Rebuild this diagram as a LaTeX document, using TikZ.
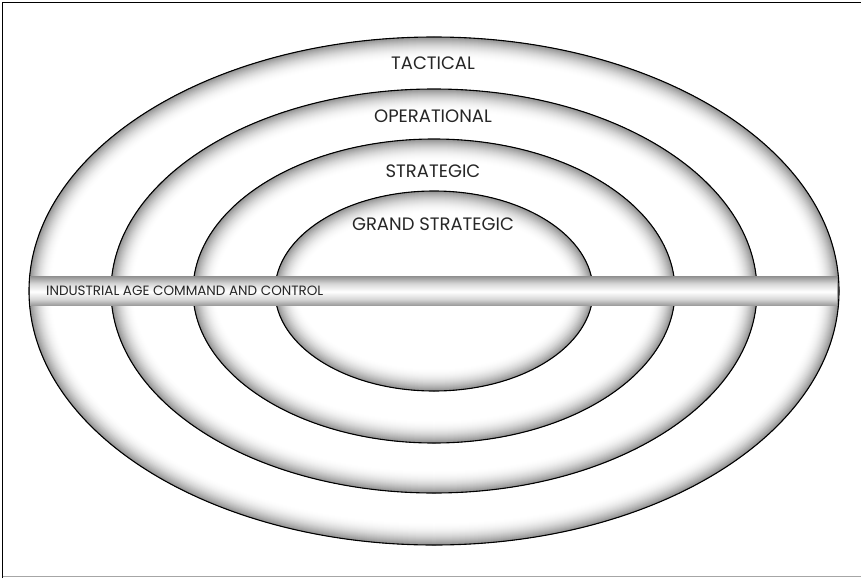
\documentclass[tikz,border=0pt]{standalone}
\usepackage{fontspec}
\setmainfont{Poppins}
\usetikzlibrary{positioning}

% soft grey band inside each ring
\pgfdeclareverticalshading{barshade}{100bp}{color(0bp)=(black!38); color(25bp)=(black!38);
  color(35bp)=(black!16); color(48bp)=(white); color(62bp)=(black!16); color(75bp)=(black!44); color(100bp)=(black!44)}

\newcommand{\glowring}[2]{%
  \begin{scope}
    \clip (434,291) ellipse [x radius=#1, y radius=#2];
    \fill[white] (434,291) ellipse [x radius=#1, y radius=#2];
    \foreach \d in {22,21,...,1} {
      \pgfmathsetmacro\k{46*(1-\d/23)^2}
      \draw[line width=2*\d, black!\k] (434,291) ellipse [x radius=#1, y radius=#2];
    }
  \end{scope}
  \draw[line width=1.1] (434,291) ellipse [x radius=#1, y radius=#2];
}

\begin{document}
\begin{tikzpicture}[x=1pt, y=-1pt,
  ringlabel/.style={font=\fontsize{18}{20}\selectfont, text=black!85, inner sep=0pt},
  barlabel/.style={font=\fontsize{13.5}{15}\selectfont, text=black!85, inner sep=0pt, anchor=west}]
\useasboundingbox (0,0) rectangle (861,578);
% Frame
\draw[line width=1.5] (2.5,578) -- (2.5,2.5) -- (861,2.5);
\draw[black!35, line width=1.5] (2.5,576.5) -- (861,576.5);
% Rings, outer first
\glowring{405}{254}
\glowring{323}{202}
\glowring{241}{152}
\glowring{159}{100}
% Bar
\shade[shading=barshade] (30,276) rectangle (837,305);
% Labels
\node[ringlabel] (tactical) at (433,63) {TACTICAL};
\node[ringlabel] (operational) at (433,116) {OPERATIONAL};
\node[ringlabel] (strategic) at (433,171) {STRATEGIC};
\node[ringlabel] (grandstrategic) at (433,224) {GRAND STRATEGIC};
\node[barlabel] (industrial) at (46,291) {INDUSTRIAL AGE COMMAND AND CONTROL};
\end{tikzpicture}
\end{document}
